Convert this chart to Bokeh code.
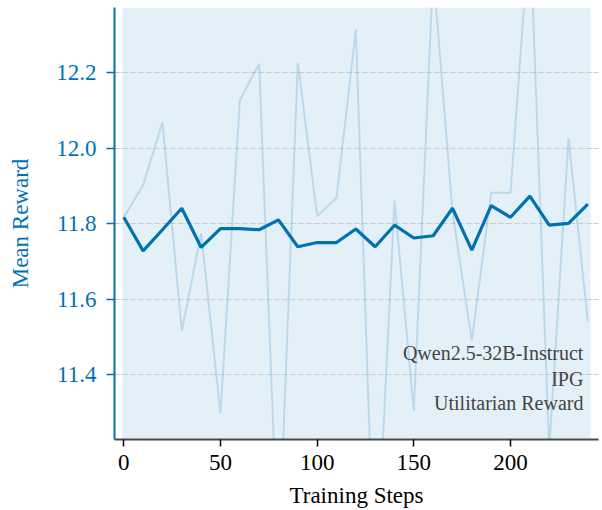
from bokeh.plotting import figure
from bokeh.models import Range1d, BoxAnnotation, Label, FixedTicker, SingleIntervalTicker, LinearAxis, Grid
from bokeh.models import CustomJSTickFormatter
from bokeh.embed import file_html
from bokeh.resources import INLINE

steps = [0, 10, 20, 30, 40, 50, 60, 70, 80, 90, 100, 110, 120,
         130, 140, 150, 160, 170, 180, 190, 200, 210, 220, 230, 240]
raw_reward = [11.817, 11.902, 12.069, 11.515, 11.775, 11.297, 12.127, 12.223, 10.90,
              12.227, 11.820, 11.868, 12.314, 10.80, 11.861, 11.304, 12.47, 11.83,
              11.49, 11.882, 11.882, 12.59, 11.20, 12.026, 11.540]
smooth_reward = [11.817, 11.728, 11.784, 11.841, 11.737, 11.787, 11.787, 11.784, 11.810,
                 11.739, 11.750, 11.750, 11.786, 11.739, 11.796, 11.762, 11.768, 11.841,
                 11.730, 11.848, 11.817, 11.873, 11.796, 11.801, 11.852]
y_ticks = [11.4, 11.6, 11.8, 12.0, 12.2]
annotation_lines = ["Qwen2.5-32B-Instruct", "IPG", "Utilitarian Reward"]

FONT = "Liberation Serif"
TICK_FONT = "Times New Roman"
BLUE = "#0072B2"

p = figure(width=602, height=510, output_backend="svg", toolbar_location=None,
           x_range=Range1d(-4.8, 245.5), y_range=Range1d(11.228, 12.373),
           y_axis_location=None)
p.min_border_left = 114
p.min_border_top = 7
p.min_border_right = 4
p.min_border_bottom = 29
p.outline_line_color = None
p.background_fill_color = "white"

shade = BoxAnnotation(left=-0.7, right=241.4, fill_color=BLUE, fill_alpha=0.105,
                      line_alpha=0, level="image")
p.add_layout(shade)

p.line(steps, raw_reward, line_color=BLUE, line_alpha=0.18, line_width=2)
p.line(steps, smooth_reward, line_color=BLUE, line_width=3.2)

yaxis = LinearAxis(
    ticker=FixedTicker(ticks=y_ticks),
    formatter=CustomJSTickFormatter(code="return tick.toFixed(1);"),
    axis_label="Mean Reward",
    axis_label_text_font=FONT, axis_label_text_font_size="23px",
    axis_label_text_font_style="normal", axis_label_text_color=BLUE,
    axis_label_standoff=20,
    major_label_text_font=TICK_FONT, major_label_text_font_size="23px",
    major_label_text_font_style="normal", major_label_text_color=BLUE,
    major_label_standoff=10, major_label_orientation=0.0,
    axis_line_color=BLUE, axis_line_width=2,
    major_tick_line_color=BLUE, major_tick_line_width=1.5,
    major_tick_in=0, major_tick_out=8,
    minor_tick_line_color=None,
)
p.add_layout(yaxis, "left")
p.add_layout(Grid(dimension=1, ticker=yaxis.ticker, grid_line_color="#c0c0c0",
                  grid_line_alpha=0.7, grid_line_dash="5 3", grid_line_width=1))

xaxis = p.xaxis[0]
xaxis.ticker = SingleIntervalTicker(interval=50)
xaxis.axis_label = "Training Steps"
xaxis.major_label_text_font = TICK_FONT
xaxis.major_label_text_font_size = "23px"
xaxis.axis_label_text_font = FONT
xaxis.axis_label_text_font_size = "23px"
xaxis.axis_label_text_font_style = "normal"
xaxis.minor_tick_line_color = None
xaxis.major_tick_in = 0
xaxis.major_tick_out = 7
xaxis.major_tick_line_width = 1.5
xaxis.axis_line_width = 2
xaxis.axis_line_color = "#4a4a4a"
xaxis.major_tick_line_color = "black"
xaxis.major_label_text_color = "black"
xaxis.axis_label_text_color = "black"
xaxis.major_label_standoff = 8
xaxis.axis_label_standoff = 10

p.xgrid.grid_line_color = None

ys = [11.456, 11.389, 11.325]
for txt, yv in zip(annotation_lines, ys):
    p.add_layout(Label(x=237.7, y=yv, text=txt, text_align="right", text_baseline="middle",
                       text_font=FONT, text_font_size="20px", text_color="#444444"))

open("out.html", "w").write(file_html(p, INLINE))
